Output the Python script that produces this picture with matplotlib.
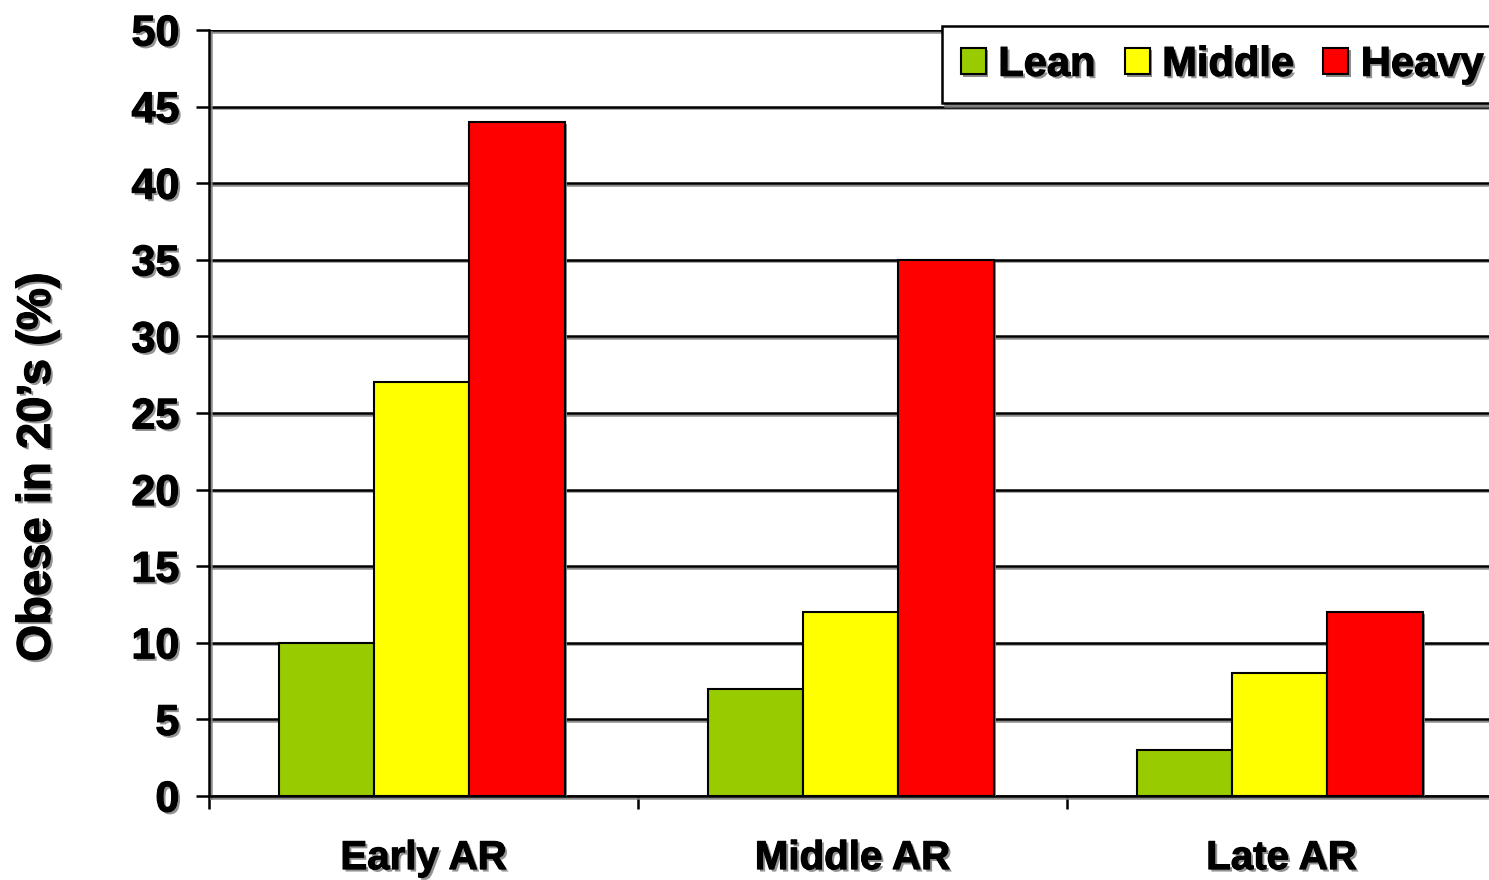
import matplotlib
matplotlib.use("Agg")
import matplotlib.pyplot as plt
import matplotlib.patheffects as pe
import numpy as np

categories = ["Early AR", "Middle AR", "Late AR"]
series_names = ["Lean", "Middle", "Heavy"]
lean = [10, 7, 3]
middle = [27, 12, 8]
heavy = [44, 35, 12]
colors = ["#99CC00", "#FFFF00", "#FF0000"]
yticks = [0, 5, 10, 15, 20, 25, 30, 35, 40, 45, 50]

plt.rcParams["font.family"] = ["Liberation Sans", "DejaVu Sans"]
plt.rcParams["font.weight"] = "bold"

shadow = [pe.SimplePatchShadow(offset=(1.6, -1.6), shadow_rgbFace="#808080", alpha=0.9), pe.Normal()]
line_shadow = [pe.SimpleLineShadow(offset=(1.2, -1.2), shadow_color="#808080", alpha=0.9), pe.Normal()]
text_fx = [pe.SimplePatchShadow(offset=(1.8, -1.8), shadow_rgbFace="#808080", alpha=0.85),
           pe.Stroke(linewidth=0.8, foreground="black"), pe.Normal()]

fig = plt.figure(figsize=(14.89, 8.80), dpi=100)
ax = fig.add_axes([209 / 1489, 1 - 796 / 880, 1287 / 1489, 766 / 880])

x = np.arange(len(categories))
w = 0.222
for i, (vals, name, c) in enumerate(zip([lean, middle, heavy], series_names, colors)):
    bars = ax.bar(x + (i - 1) * w - 0.004, vals, width=w, color=c, edgecolor="black",
                  linewidth=1.5, label=name, zorder=3)
    for b in bars:
        b.set_path_effects(shadow)

ax.set_xlim(-0.5, 2.5)
ax.set_ylim(0, 50)
ax.set_yticks(yticks)
ax.set_yticklabels([str(v) for v in yticks])
ax.set_xticks([-0.5, 0.5, 1.5, 2.5])
ax.set_xticklabels([])
ax.set_xticks(x, minor=True)
ax.set_xticklabels(categories, minor=True)
ax.tick_params(axis="x", which="minor", length=0, pad=31, labelsize=29)
ax.tick_params(axis="x", which="major", length=9, width=1.8, direction="out")
ax.tick_params(axis="y", length=9.4, width=1.8, labelsize=31, pad=12)

for lbl in ax.get_yticklabels() + ax.get_xticklabels(minor=True):
    lbl.set_fontweight("bold")
    lbl.set_path_effects(text_fx)

ax.yaxis.grid(True, color="black", linewidth=1.8, zorder=1)
for gl in ax.get_ygridlines():
    gl.set_path_effects(line_shadow)
ax.set_axisbelow(True)

for side in ["top", "right"]:
    ax.spines[side].set_visible(False)
for side in ["left", "bottom"]:
    ax.spines[side].set_linewidth(1.8)
    ax.spines[side].set_path_effects(line_shadow)

ylab = ax.set_ylabel("Obese in 20’s (%)", fontsize=34, fontweight="bold")
ylab.set_va("center")
ax.yaxis.set_label_coords(-0.133, 0.43)
ylab.set_path_effects(text_fx)

leg = fig.legend(loc="upper left", bbox_to_anchor=(942 / 1489, 1 - 26 / 880), ncol=3,
                 fontsize=30, frameon=True, fancybox=False, shadow={"color": "#808080", "alpha": 0.9},
                 edgecolor="black", framealpha=1, handlelength=0.6, handleheight=0.6,
                 handletextpad=0.3, columnspacing=0.7, borderpad=0.45, borderaxespad=0)
leg.get_frame().set_linewidth(1.8)
for t in leg.get_texts():
    t.set_fontweight("bold")
    t.set_path_effects(text_fx)

fig.savefig("out.png", dpi=100)
